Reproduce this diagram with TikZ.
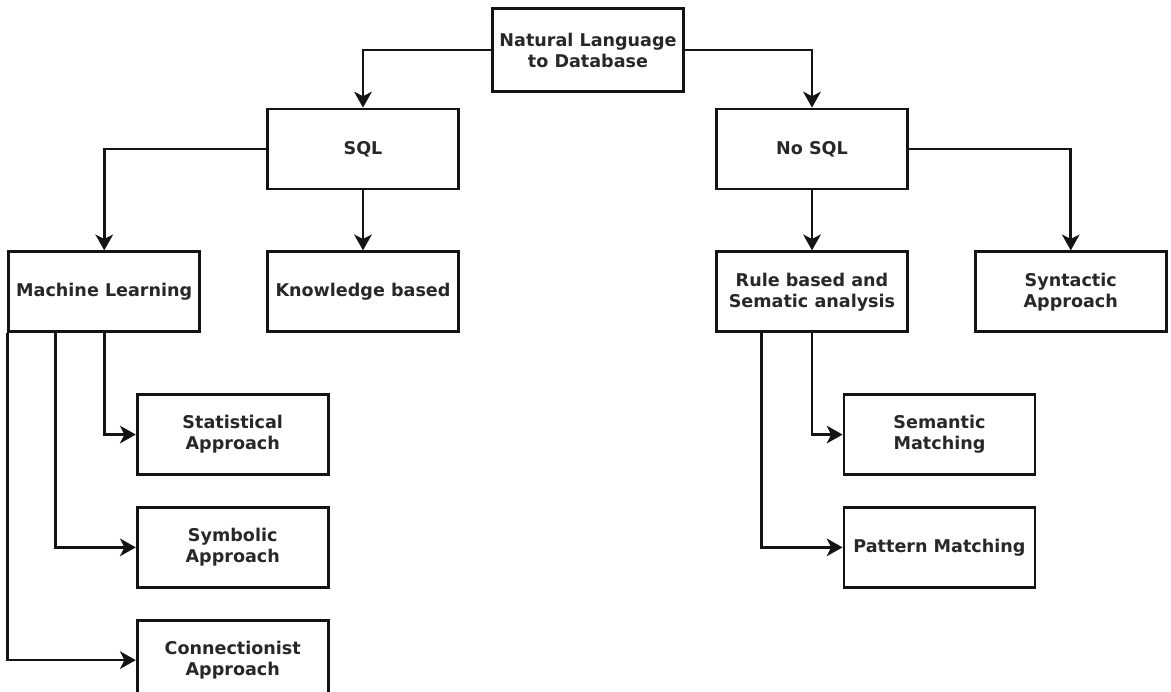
\documentclass[tikz,border=0pt]{standalone}
\usepackage{fontspec}
\setmainfont{DejaVu Sans}
\usepackage{tikz}
\usetikzlibrary{arrows.meta,positioning,calc}
\definecolor{inkline}{RGB}{20,20,20}
\definecolor{inktext}{RGB}{40,40,40}

\begin{document}
\begin{tikzpicture}[
        x=0.02cm,y=-0.02cm,
        box/.style={draw=inkline,line width=1.6pt,minimum width=3.82cm,
                    minimum height=1.6cm,align=center,inner sep=2pt,
                    font=\fontsize{10}{12}\selectfont\bfseries,
                    text=inktext,fill=white},
        arr/.style={-{Stealth[length=9pt,width=10pt,inset=2.5pt]},
                    line width=1.5pt,inkline},
        node distance=1.2cm,
      ]
        \useasboundingbox (0,0) rectangle (1171,691);
        \node[box,minimum height=1.66cm](root) at (588,50){Natural Language\\to Database};
        \node[box](sql) at (363,149){SQL};
        \node[box](nosql) at (812,149){No SQL};
        \node[box,below=of sql](kb){Knowledge based};
        \node[box,left=1.3cm of kb](ml){Machine Learning};
        \node[box,below=of nosql](rule){Rule based and\\Sematic analysis};
        \node[box,right=1.3cm of rule](syn){Syntactic\\Approach};
        \node[box,below=of ml,xshift=2.57cm](stat){Statistical\\Approach};
        \node[box,below=0.6cm of stat](symb){Symbolic\\Approach};
        \node[box,below=0.6cm of symb](conn){Connectionist\\Approach};
        \node[box,below=of rule,xshift=2.55cm](sem){Semantic\\Matching};
        \node[box,below=0.6cm of sem](pat){Pattern Matching};
        \draw[arr](root.west)-|(sql.north);
        \draw[arr](root.east)-|(nosql.north);
        \draw[arr](sql.west)-|(ml.north);
        \draw[arr](sql)--(kb);
        \draw[arr](nosql.east)-|(syn.north);
        \draw[arr](nosql)--(rule);
        \draw[arr](ml.south)|-(stat.west);
        \draw[arr]($(ml.south west)!0.25!(ml.south east)$)|-(symb.west);
        \draw[arr](ml.south west)|-(conn.west);
        \draw[arr](rule.south)|-(sem.west);
        \draw[arr]($(rule.south west)!0.24!(rule.south east)$)|-(pat.west);
      \end{tikzpicture}
\end{document}
